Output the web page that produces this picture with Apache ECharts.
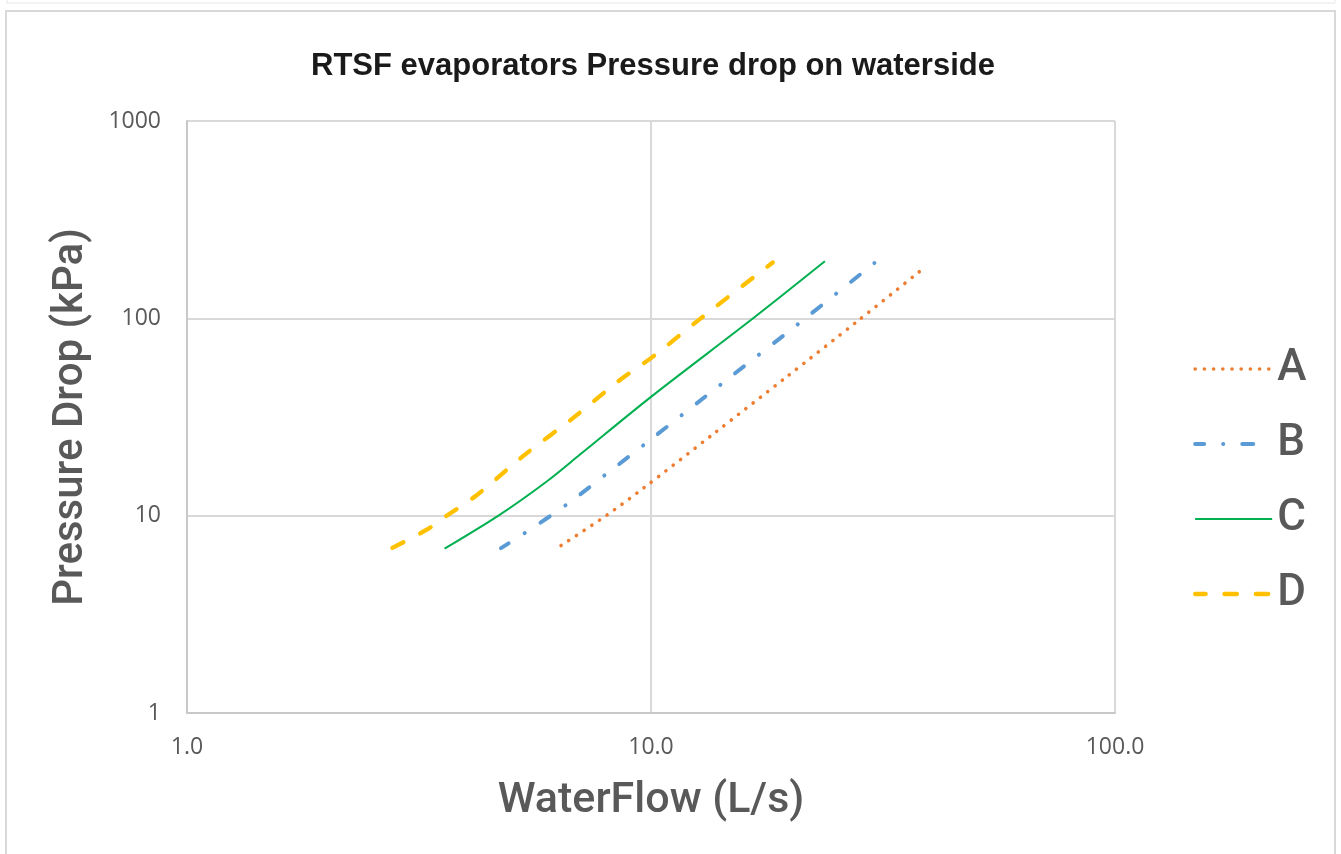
<!DOCTYPE html>
<html>
<head>
<meta charset="utf-8">
<title>RTSF evaporators Pressure drop on waterside</title>
<script src="https://cdn.jsdelivr.net/npm/echarts@6/dist/echarts.min.js"></script>
<style>
  html, body { margin: 0; padding: 0; background: #fff; }
  #chart { width: 1341px; height: 854px; }
</style>
</head>
<body>
<div id="chart"></div>
<script>
// values (flow in L/s, pressure drop in kPa)
const seriesNames = ['A', 'B', 'C', 'D'];

const flowA = [6.4, 8.0, 9.6, 13.7, 19.6, 27.9, 38.3];
const dropA = [7.06, 10, 13.7, 26.2, 50.5, 97, 176];

const flowB = [4.75, 5.43, 6.62, 8.02, 9.71, 14.2, 20.8, 30.3];
const dropB = [6.85, 8.37, 11.5, 16.3, 23.1, 46.6, 94, 190.6];

const flowC = [3.59, 4.69, 5.96, 7.03, 10, 16.6, 23.7];
const dropC = [6.8, 10, 14.9, 20.4, 40, 100, 194.5];

const flowD = [2.77, 3.28, 3.63, 4.21, 5.35, 6.8, 8.57, 10.08, 12.8, 18.3];
const dropD = [6.87, 8.47, 10, 12.7, 20.4, 31.3, 48.7, 63.8, 100, 192];

const pair = (xs, ys) => xs.map((x, i) => [x, ys[i]]);

const grey = '#595959';
const gridColor = '#d9d9d9';

const chart = echarts.init(document.getElementById('chart'));

const option = {
  animation: false,
  backgroundColor: '#fff',
  title: {
    text: 'RTSF evaporators Pressure drop on waterside',
    left: 306,
    top: 46,
    textStyle: {
      fontFamily: 'Liberation Sans',
      fontWeight: 'bold',
      fontSize: 31,
      color: '#1a1a1a'
    }
  },
  grid: {
    left: 187,
    right: 226,
    top: 121,
    bottom: 141
  },
  legend: {
    data: seriesNames,
    orient: 'vertical',
    left: 1193,
    top: 346,
    padding: 0,
    itemWidth: 77,
    itemHeight: 14,
    itemGap: 29,
    itemStyle: { opacity: 0 },
    lineStyle: { width: 'inherit' },
    textStyle: {
      fontFamily: 'Roboto',
      fontWeight: 500,
      fontSize: 44,
      lineHeight: 46,
      color: grey
    }
  },
  xAxis: {
    type: 'log',
    logBase: 10,
    min: 1,
    max: 100,
    name: 'WaterFlow (L/s)',
    nameLocation: 'middle',
    nameGap: 67,
    nameTextStyle: {
      fontFamily: 'Roboto',
      fontWeight: 500,
      fontSize: 43,
      color: grey
    },
    axisLine: { lineStyle: { color: '#c8c8c8', width: 2 } },
    axisTick: { show: false },
    axisLabel: {
      margin: 23,
      fontFamily: 'Open Sans',
      fontSize: 23,
      color: grey,
      formatter: v => v.toFixed(1)
    },
    splitLine: { show: true, lineStyle: { color: gridColor, width: 2 } },
    minorSplitLine: { show: false }
  },
  yAxis: {
    type: 'log',
    logBase: 10,
    min: 1,
    max: 1000,
    name: 'Pressure Drop (kPa)',
    nameLocation: 'middle',
    nameGap: 95,
    nameTextStyle: {
      fontFamily: 'Roboto',
      fontWeight: 500,
      fontSize: 42,
      color: grey
    },
    axisLine: { show: true, lineStyle: { color: '#c8c8c8', width: 2 } },
    axisTick: { show: false },
    axisLabel: {
      margin: 26,
      fontFamily: 'Open Sans',
      fontSize: 23,
      color: grey,
      formatter: v => String(Math.round(v))
    },
    splitLine: { show: true, lineStyle: { color: gridColor, width: 2 } }
  },
  graphic: [
    {
      type: 'rect',
      silent: true,
      shape: { x: 7, y: -20, width: 1328, height: 23 },
      style: { fill: 'none', stroke: '#e6e6e6', lineWidth: 1 }
    },
    {
      type: 'rect',
      silent: true,
      shape: { x: 6, y: 11, width: 1329, height: 870 },
      style: { fill: 'none', stroke: '#d9d9d9', lineWidth: 2 }
    }
  ],
  series: [
    {
      name: 'A',
      type: 'line',
      data: pair(flowA, dropA),
      symbol: 'none',
      smooth: 0.3,
      lineStyle: { color: '#ED7D31', width: 3.6, type: [0.1, 9.1], cap: 'round' },
      itemStyle: { color: '#ED7D31' }
    },
    {
      name: 'B',
      type: 'line',
      data: pair(flowB, dropB),
      symbol: 'none',
      smooth: 0.3,
      lineStyle: { color: '#5B9BD5', width: 4, type: [11, 19, 0.1, 19], dashOffset: 2, cap: 'round' },
      itemStyle: { color: '#5B9BD5' }
    },
    {
      name: 'C',
      type: 'line',
      data: pair(flowC, dropC),
      symbol: 'none',
      smooth: 0.3,
      lineStyle: { color: '#00B050', width: 2 },
      itemStyle: { color: '#00B050' }
    },
    {
      name: 'D',
      type: 'line',
      data: pair(flowD, dropD),
      symbol: 'none',
      smooth: 0.3,
      lineStyle: { color: '#FFC000', width: 4.3, type: [12.5, 18.8], cap: 'round' },
      itemStyle: { color: '#FFC000' }
    }
  ]
};

chart.setOption(option);
</script>
</body>
</html>
